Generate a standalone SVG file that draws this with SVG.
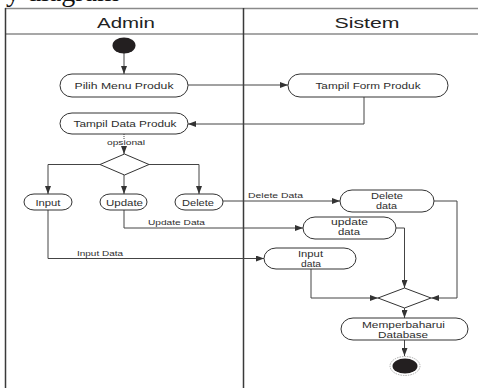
<svg xmlns="http://www.w3.org/2000/svg" width="478" height="388" viewBox="0 0 478 388">
  <style>
    .lane { stroke: #3a3a3a; stroke-width: 1.5; fill: none; }
    .laneTop { stroke: #8a8a8a; stroke-width: 1.5; fill: none; }
    .act { fill: #ffffff; stroke: #333333; stroke-width: 1; }
    .dec { fill: #ffffff; stroke: #333333; stroke-width: 1; }
    .edge { fill: none; stroke: #444444; stroke-width: 1; }
    .t { font-family: "Liberation Sans", Arial, sans-serif; fill: #2e2e2e; text-anchor: middle; }
    .node { font-size: 9.5px; }
    .node2 { font-size: 8.5px; }
    .lbl { font-size: 8px; text-anchor: start; }
    .head { font-size: 14.5px; fill: #222222; }
    .cap { font-family: "Liberation Serif", "Times New Roman", serif; font-size: 28px; fill: #111111; }
  </style>
  <defs>
    <marker id="arrow" viewBox="0 0 8 6" refX="8" refY="3" markerWidth="8" markerHeight="6" markerUnits="userSpaceOnUse" orient="auto">
      <path d="M0,0 L8,3 L0,6 z" fill="#333333"/>
    </marker>
  </defs>

  <rect width="478" height="388" fill="#ffffff"/>

  <!-- clipped caption line above the swimlanes -->
  <text class="cap" x="6" y="1">y diagram</text>

  <!-- swimlane frame -->
  <g id="lanes">
    <path class="laneTop" d="M5 8.5 H478 M5 34 H478"/>
    <path class="lane" d="M5.5 8 V388 M243.5 8 V388"/>
    <text class="t head" x="126" y="28" textLength="58" lengthAdjust="spacingAndGlyphs">Admin</text>
    <text class="t head" x="367" y="28" textLength="65" lengthAdjust="spacingAndGlyphs">Sistem</text>
  </g>

  <!-- connectors -->
  <g id="connectors">
    <path class="edge" d="M124 53 V74" marker-end="url(#arrow)"/>
    <path class="edge" d="M188 85 H288" marker-end="url(#arrow)"/>
    <path class="edge" d="M364 97 V124 H188" marker-end="url(#arrow)"/>
    <path class="edge" d="M124 134 V139" stroke-dasharray="1 1"/>
    <path class="edge" d="M124 146 V154" marker-end="url(#arrow)"/>
    <path class="edge" d="M100 164.5 H48 V194" marker-end="url(#arrow)"/>
    <path class="edge" d="M124 175 V194" marker-end="url(#arrow)"/>
    <path class="edge" d="M149 164.5 H199 V194" marker-end="url(#arrow)"/>
    <path class="edge" d="M223 201 H340" marker-end="url(#arrow)"/>
    <path class="edge" d="M124 210 V228 H303" marker-end="url(#arrow)"/>
    <path class="edge" d="M48 210 V258.5 H264" marker-end="url(#arrow)"/>
    <path class="edge" d="M434 201 H457 V298 H431" marker-end="url(#arrow)"/>
    <path class="edge" d="M396 228 H404.5 V288" marker-end="url(#arrow)"/>
    <path class="edge" d="M311 269 V298 H378" marker-end="url(#arrow)"/>
    <path class="edge" d="M404.5 308 V318" marker-end="url(#arrow)"/>
    <path class="edge" d="M404.5 340 V356" marker-end="url(#arrow)"/>
    <!-- edge labels -->
    <text class="t lbl" x="107" y="145" textLength="38" lengthAdjust="spacingAndGlyphs">opsional</text>
    <text class="t lbl" x="248" y="198" textLength="55" lengthAdjust="spacingAndGlyphs">Delete Data</text>
    <text class="t lbl" x="148" y="225" textLength="57" lengthAdjust="spacingAndGlyphs">Update Data</text>
    <text class="t lbl" x="77" y="256" textLength="46" lengthAdjust="spacingAndGlyphs">Input Data</text>
  </g>

  <!-- initial node -->
  <g id="start">
    <ellipse cx="124" cy="45.5" rx="11.5" ry="8" fill="#231f20"/>
  </g>

  <g id="pilih-menu-produk">
    <rect class="act" x="60" y="74" width="128" height="23" rx="12" ry="11.5"/>
    <text class="t node" x="124" y="89" textLength="99" lengthAdjust="spacingAndGlyphs">Pilih  Menu Produk</text>
  </g>

  <g id="tampil-form-produk">
    <rect class="act" x="288" y="74" width="160" height="23" rx="12" ry="11.5"/>
    <text class="t node" x="368" y="89" textLength="105" lengthAdjust="spacingAndGlyphs">Tampil Form Produk</text>
  </g>

  <g id="tampil-data-produk">
    <rect class="act" x="60" y="113" width="128" height="21" rx="12" ry="10.5"/>
    <text class="t node" x="125" y="127" textLength="103" lengthAdjust="spacingAndGlyphs">Tampil Data Produk</text>
  </g>

  <g id="pilihan">
    <polygon class="dec" points="124.5,154 149,164.5 124.5,175 100,164.5"/>
  </g>

  <g id="input">
    <rect class="act" x="24" y="194" width="48" height="16" rx="10" ry="8"/>
    <text class="t node" x="48" y="205.5" textLength="25" lengthAdjust="spacingAndGlyphs">Input</text>
  </g>

  <g id="update">
    <rect class="act" x="100" y="194" width="47" height="16" rx="10" ry="8"/>
    <text class="t node" x="124.5" y="205.5" textLength="37" lengthAdjust="spacingAndGlyphs">Update</text>
  </g>

  <g id="delete">
    <rect class="act" x="175" y="194" width="48" height="16" rx="10" ry="8"/>
    <text class="t node" x="198" y="205.5" textLength="32" lengthAdjust="spacingAndGlyphs">Delete</text>
  </g>

  <g id="delete-data">
    <rect class="act" x="340" y="190" width="94" height="22" rx="12" ry="11"/>
    <text class="t node2" x="387" y="199" textLength="32" lengthAdjust="spacingAndGlyphs">Delete</text>
    <text class="t node2" x="386.5" y="208.5" textLength="21" lengthAdjust="spacingAndGlyphs">data</text>
  </g>

  <g id="update-data">
    <rect class="act" x="303" y="217" width="93" height="22" rx="12" ry="11"/>
    <text class="t node2" x="349.5" y="225" textLength="37" lengthAdjust="spacingAndGlyphs">update</text>
    <text class="t node2" x="349" y="235" textLength="22" lengthAdjust="spacingAndGlyphs">data</text>
  </g>

  <g id="input-data">
    <rect class="act" x="264" y="248" width="92" height="21" rx="12" ry="10.5"/>
    <text class="t node2" x="310.5" y="257" textLength="25" lengthAdjust="spacingAndGlyphs">Input</text>
    <text class="t node2" x="311" y="266.5" textLength="20" lengthAdjust="spacingAndGlyphs">data</text>
  </g>

  <g id="gabung">
    <polygon class="dec" points="404.5,288 431,298 404.5,308 378,298"/>
  </g>

  <g id="memperbaharui-database">
    <rect class="act" x="341" y="318" width="127" height="22" rx="12" ry="11"/>
    <text class="t node2" x="403.5" y="327.5" textLength="83" lengthAdjust="spacingAndGlyphs">Memperbaharui</text>
    <text class="t node2" x="403" y="337.5" textLength="50" lengthAdjust="spacingAndGlyphs">Database</text>
  </g>

  <!-- final node -->
  <g id="end">
    <ellipse cx="405" cy="366" rx="15" ry="9.5" fill="#ffffff" stroke="#999999" stroke-width="0.8" stroke-dasharray="1.5 1"/>
    <ellipse cx="405" cy="366" rx="12.5" ry="7.5" fill="#231f20"/>
  </g>
</svg>
